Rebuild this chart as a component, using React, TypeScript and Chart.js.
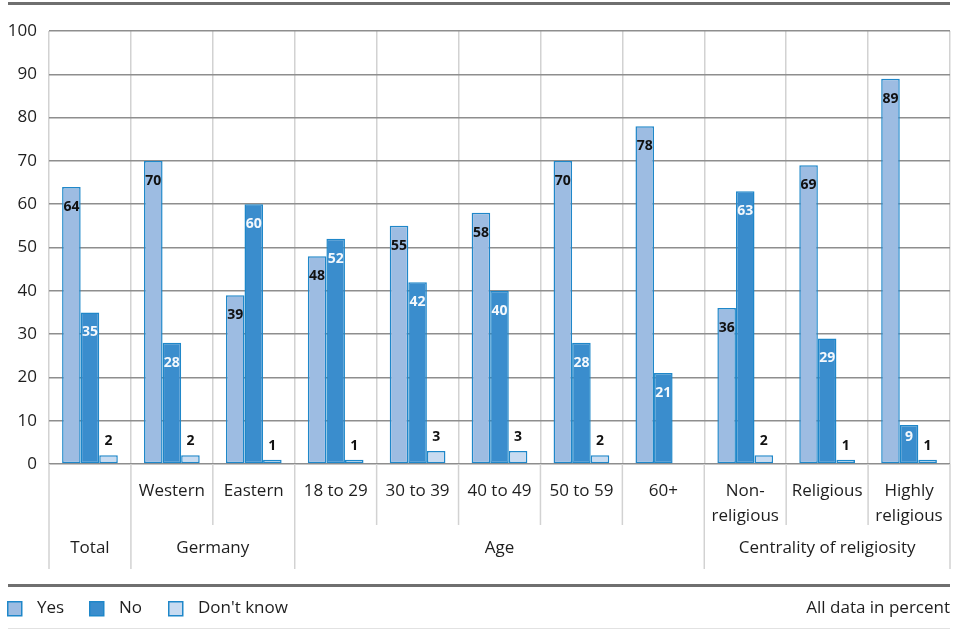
import React, { useEffect, useRef } from "react";
import { Chart, registerables } from "chart.js";
Chart.register(...registerables);

const categories = ["Total", "Western", "Eastern", "18 to 29", "30 to 39", "40 to 49", "50 to 59", "60+", "Non-religious", "Religious", "Highly religious"];
const tickLines: string[][] = [[], ["Western"], ["Eastern"], ["18 to 29"], ["30 to 39"], ["40 to 49"], ["50 to 59"], ["60+"], ["Non-", "religious"], ["Religious"], ["Highly", "religious"]];
const groups = [
  { label: "Total", from: 0, to: 0 },
  { label: "Germany", from: 1, to: 2 },
  { label: "Age", from: 3, to: 7 },
  { label: "Centrality of religiosity", from: 8, to: 10 },
];
const yesValues = [64, 70, 39, 48, 55, 58, 70, 78, 36, 69, 89];
const noValues = [35, 28, 60, 52, 42, 40, 28, 21, 63, 29, 9];
const dkValues: (number | null)[] = [2, 2, 1, 1, 3, 3, 2, null, 2, 1, 1];
const seriesNames = ["Yes", "No", "Don't know"];
const yTicks = { min: 0, max: 100, step: 10 };

const FILL = ["#9dbce2", "#3a8dcd", "#c8dbf1"];
const BORDER = "#1f87c9";
const FONT = "'Open Sans', 'DejaVu Sans', sans-serif";

const overlay = {
  id: "overlay",
  afterDatasetsDraw(chart: any) {
    const ctx = chart.ctx;
    ctx.save();
    ctx.font = `bold 14px ${FONT}`;
    ctx.textAlign = "center";
    ctx.textBaseline = "middle";
    chart.data.datasets.forEach((ds: any, di: number) => {
      const meta = chart.getDatasetMeta(di);
      meta.data.forEach((el: any, i: number) => {
        const v = ds.data[i];
        if (v == null) return;
        const h = el.base - el.y;
        let y: number;
        if (di === 2) {
          y = el.y - 14;
          ctx.fillStyle = "#111";
        } else {
          y = el.y + Math.min(20, h / 2 - 7);
          ctx.fillStyle = di === 0 ? "#111" : "#f4f8fc";
        }
        ctx.fillText(String(v), el.x, y);
      });
    });
    ctx.restore();
  },
  afterDraw(chart: any) {
    const ctx = chart.ctx;
    const xs = chart.scales.x;
    const area = chart.chartArea;
    const n = categories.length;
    const cw = (area.right - area.left) / n;
    const edge = (i: number) => area.left + cw * i;
    ctx.save();
    ctx.strokeStyle = "#d2d2d2";
    ctx.lineWidth = 1.5;
    const groupEdges = new Set<number>();
    groups.forEach((g) => { groupEdges.add(g.from); groupEdges.add(g.to + 1); });
    for (let i = 0; i <= n; i++) {
      const x = edge(i);
      const yEnd = groupEdges.has(i) ? 569 : 525;
      ctx.beginPath();
      ctx.moveTo(x, area.bottom);
      ctx.lineTo(x, yEnd);
      ctx.stroke();
    }
    ctx.fillStyle = "#1e1e1e";
    ctx.font = `17px ${FONT}`;
    ctx.textAlign = "center";
    ctx.textBaseline = "middle";
    tickLines.forEach((lines, i) => {
      const cx = xs.getPixelForValue(i);
      lines.forEach((t, j) => ctx.fillText(t, cx, 491 + j * 25));
    });
    groups.forEach((g) => {
      const cx = (edge(g.from) + edge(g.to + 1)) / 2;
      ctx.fillText(g.label, cx, 548);
    });
    ctx.fillStyle = "#6f6f6f";
    ctx.fillRect(8, 2, 942, 3);
    ctx.fillRect(8, 584, 942, 3);
    ctx.fillStyle = "#e2e2e2";
    ctx.fillRect(8, 628, 942, 1);
    const legendX = [7, 89, 168];
    seriesNames.forEach((name, i) => {
      const x = legendX[i];
      ctx.fillStyle = FILL[i];
      ctx.fillRect(x, 601, 15, 15);
      ctx.strokeStyle = BORDER;
      ctx.lineWidth = 1.5;
      ctx.strokeRect(x + 0.75, 601.75, 14, 14);
      ctx.fillStyle = "#1e1e1e";
      ctx.textAlign = "left";
      ctx.fillText(name, x + 30, 608);
    });
    ctx.textAlign = "right";
    ctx.fillText("All data in percent", 950, 608);
    ctx.restore();
  },
};

export default function App() {
  const ref = useRef<HTMLCanvasElement>(null);
  useEffect(() => {
    if (!ref.current) return;
    const mk = (label: string, data: (number | null)[], i: number) => ({
      label,
      data,
      backgroundColor: FILL[i],
      borderColor: BORDER,
      borderWidth: 1.5,
      borderSkipped: false,
      categoryPercentage: 0.68,
      barPercentage: 1,
    });
    const chart = new Chart(ref.current, {
      type: "bar",
      data: {
        labels: categories,
        datasets: [mk(seriesNames[0], yesValues, 0), mk(seriesNames[1], noValues, 1), mk(seriesNames[2], dkValues, 2)],
      },
      options: {
        responsive: false,
        animation: false,
        devicePixelRatio: 1,
        layout: { padding: { left: 8, right: 6, top: 31, bottom: 166 } },
        plugins: { legend: { display: false }, tooltip: { enabled: false } },
        scales: {
          x: {
            offset: true,
            grid: { offset: true, color: "#d2d2d2", lineWidth: 1.5, drawTicks: false },
            border: { display: false },
            ticks: { display: false },
            afterFit: (s: any) => { s.height = 0; },
          },
          y: {
            min: yTicks.min,
            max: yTicks.max,
            ticks: { stepSize: yTicks.step, color: "#1e1e1e", font: { family: FONT, size: 17 }, padding: 12 },
            grid: { color: "#8e8e8e", lineWidth: 1.5, drawTicks: false },
            border: { display: false },
            afterFit: (s: any) => { s.width = 41; },
          },
        },
      } as any,
      plugins: [overlay],
    });
    return () => chart.destroy();
  }, []);
  return (
    <div style={{ position: "absolute", left: 0, top: 0, width: 956, height: 630, background: "#fff" }}>
      <canvas ref={ref} width={956} height={630} style={{ width: 956, height: 630 }} />
    </div>
  );
}
